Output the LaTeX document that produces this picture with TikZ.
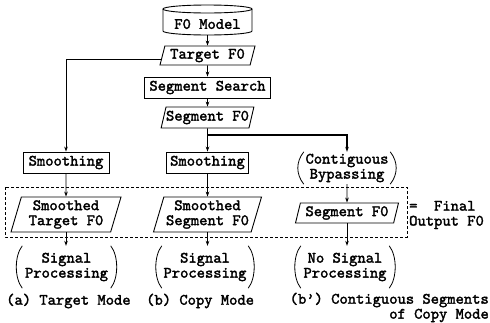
\documentclass[tikz,border=0pt]{standalone}
\usepackage{fontspec}
\newfontfamily\heavytt{lmmono10-regular.otf}[FakeBold=2]
\usetikzlibrary{shapes.geometric,arrows.meta,calc}
% a pair of round brackets drawn around a text node
\newcommand\parpair[1]{%
  \draw[paren] ([xshift=6pt]#1.north west) .. controls ([xshift=-2pt,yshift=-10pt]#1.north west) and ([xshift=-2pt,yshift=10pt]#1.south west) .. ([xshift=6pt]#1.south west);
  \draw[paren] ([xshift=-6pt]#1.north east) .. controls ([xshift=2pt,yshift=-10pt]#1.north east) and ([xshift=2pt,yshift=10pt]#1.south east) .. ([xshift=-6pt]#1.south east);}
\begin{document}
\begin{tikzpicture}[x=1pt,y=-1pt,
  every node/.style={font=\fontsize{15.8}{15}\selectfont\heavytt, inner sep=0pt, align=center},
  box/.style={draw, line width=0.9pt, minimum height=21},
  para/.style={draw, line width=0.9pt, trapezium, trapezium left angle=70,
    trapezium right angle=110, trapezium stretches body},
  arr/.style={line width=0.8pt, -{Stealth[length=5pt,width=3.6pt]}},
  paren/.style={line width=0.8pt},
  frame/.style={line width=0.8pt, dash pattern=on 3pt off 2pt},
]
\useasboundingbox (0,0) rectangle (490,322);

% model store
\node[minimum width=89, minimum height=22] (mod) at (207.5,24) {F0 Model};
\draw[line width=0.9pt] (163,9) -- (163,31)
  arc[start angle=180, end angle=360, x radius=44.5pt, y radius=4pt] -- (252,9);
\draw[line width=0.9pt] (207.5,9) ellipse[x radius=44.5pt, y radius=4pt];

% upper chain
\node[para, minimum width=95, minimum height=19] (tgt) at (207.5,55.5) {Target F0};
\node[box, minimum width=126] (ss) at (207.5,87.5) {Segment Search};
\node[para, minimum width=92, minimum height=21] (segf) at (207.5,117.5) {Segment F0};

% middle row
\node[box, minimum width=86] (sma) at (66,162.5) {Smoothing};
\node[box, minimum width=82] (smb) at (207.5,162.5) {Smoothing};
\node[minimum width=98, minimum height=32] (cb) at (347,168) {Contiguous\\Bypassing};

% final outputs
\node[para, minimum width=110, minimum height=35] (sta) at (66,214.5) {Smoothed\\Target F0};
\node[para, minimum width=108, minimum height=35] (ssb) at (207.5,214.5) {Smoothed\\Segment F0};
\node[para, minimum width=103, minimum height=20] (sfc) at (347,213) {Segment F0};
\draw[frame] (5,187) rectangle (407,237);
\node[anchor=west, align=left] (fin) at (409,215) {=\ \ Final\\Output F0};

% processing notes
\node[minimum width=100, minimum height=42] (spa) at (66.5,267) {Signal\\Processing};
\node[minimum width=98, minimum height=42] (spb) at (205,267) {Signal\\Processing};
\node[minimum width=100, minimum height=42] (spc) at (345,267) {No Signal\\Processing};
\parpair{cb}
\parpair{spa}
\parpair{spb}
\parpair{spc}

% captions
\node[anchor=west] (capa) at (6,301) {(a) Target Mode};
\node[anchor=west] (capb) at (146,301) {(b) Copy Mode};
\node[anchor=east] (capc) at (489,300) {(b’) Contiguous Segments};
\node[anchor=east] (capd) at (489,315.5) {of Copy Mode};

% connectors
\coordinate (tl) at ($(tgt.top left corner)!0.7!(tgt.bottom left corner)$);
\coordinate (br) at (207.5,135);
\draw[arr] (mod.south) -- (tgt.north);
\draw[arr] (tgt.south) -- (ss.north);
\draw[arr] (ss.south) -- (segf.north);
\draw[arr] (tl) -| (sma.north);
\draw[arr] (segf.south) -- (smb.north);
\draw[arr, line width=1.1pt] (br) -| (cb.north);
\draw[arr] (sma.south) -- (sta.north);
\draw[arr] (smb.south) -- (ssb.north);
\draw[arr] (cb.south) -- (sfc.north);
\draw[arr] (sta.south) -- (sta.south |- spa.north);
\draw[arr] (ssb.south) -- (ssb.south |- spb.north);
\draw[arr] (sfc.south) -- (sfc.south |- spc.north);
\end{tikzpicture}
\end{document}
